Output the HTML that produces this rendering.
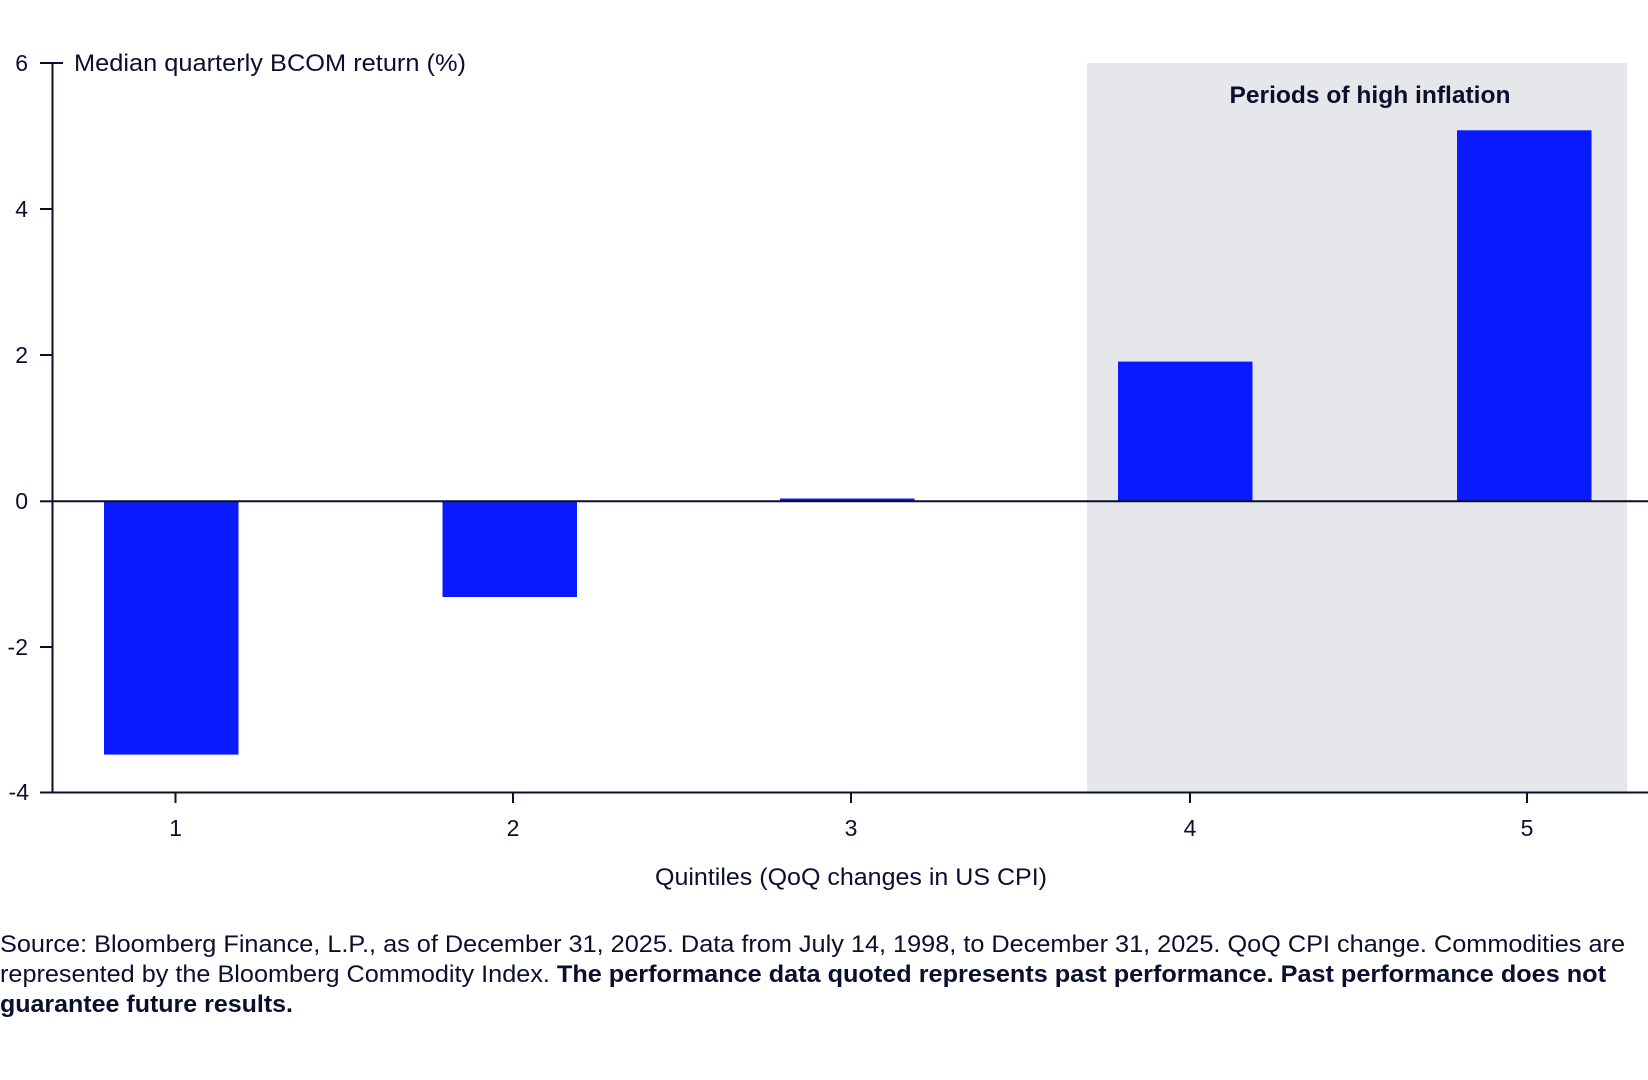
<!DOCTYPE html>
<html><head><meta charset="utf-8"><style>
html,body{margin:0;padding:0;background:#fff;}
svg{display:block;font-family:"Liberation Sans",sans-serif;}
</style></head><body>
<svg width="1648" height="1080" viewBox="0 0 1648 1080" xmlns="http://www.w3.org/2000/svg">
<rect x="1087" y="63" width="540" height="729.5" fill="#e6e7ea"/>
<g fill="#0a1aff">
<rect x="104" y="501.3" width="134.5" height="253.3"/>
<rect x="442.5" y="501.3" width="134.5" height="95.7"/>
<rect x="780" y="498.5" width="134.5" height="2.8"/>
<rect x="1118" y="361.6" width="134.5" height="139.7"/>
<rect x="1457" y="130.3" width="134.5" height="371"/>
</g>
<g stroke="#0b0f2e" stroke-width="2" fill="none">
<line x1="52.5" y1="63" x2="52.5" y2="792.5"/>
<line x1="52.5" y1="792.5" x2="1648" y2="792.5"/>
<line x1="52.5" y1="501.3" x2="1648" y2="501.3"/>
<line x1="40" y1="63" x2="63" y2="63"/>
<line x1="40" y1="209" x2="52.5" y2="209"/>
<line x1="40" y1="355" x2="52.5" y2="355"/>
<line x1="40" y1="501.3" x2="52.5" y2="501.3"/>
<line x1="40" y1="647" x2="52.5" y2="647"/>
<line x1="40" y1="792.5" x2="52.5" y2="792.5"/>
<line x1="175.5" y1="792.5" x2="175.5" y2="803"/>
<line x1="513" y1="792.5" x2="513" y2="803"/>
<line x1="851" y1="792.5" x2="851" y2="803"/>
<line x1="1190" y1="792.5" x2="1190" y2="803"/>
<line x1="1527" y1="792.5" x2="1527" y2="803"/>
</g>
<g fill="#0b0f2e" font-size="23">
<g text-anchor="end">
<text x="28" y="71">6</text>
<text x="28" y="217">4</text>
<text x="28" y="363">2</text>
<text x="28" y="509">0</text>
<text x="28" y="655">-2</text>
<text x="29" y="800">-4</text>
</g>
<g text-anchor="middle">
<text x="175.5" y="836">1</text>
<text x="513" y="836">2</text>
<text x="851" y="836">3</text>
<text x="1190" y="836">4</text>
<text x="1527" y="836">5</text>
<text x="851" y="885" font-size="24" textLength="392" lengthAdjust="spacingAndGlyphs">Quintiles (QoQ changes in US CPI)</text>
<text x="1370" y="103" font-size="24" font-weight="bold" textLength="281" lengthAdjust="spacingAndGlyphs">Periods of high inflation</text>
</g>
<text x="74" y="71" font-size="24" textLength="392" lengthAdjust="spacingAndGlyphs">Median quarterly BCOM return (%)</text>
<g font-size="24">
<text x="0" y="952" textLength="1625" lengthAdjust="spacingAndGlyphs">Source: Bloomberg Finance, L.P., as of December 31, 2025. Data from July 14, 1998, to December 31, 2025. QoQ CPI change. Commodities are</text>
<text x="0" y="982" textLength="1606" lengthAdjust="spacingAndGlyphs">represented by the Bloomberg Commodity Index. <tspan font-weight="bold">The performance data quoted represents past performance. Past performance does not</tspan></text>
<text x="0" y="1012" font-weight="bold" textLength="293" lengthAdjust="spacingAndGlyphs">guarantee future results.</text>
</g>
</g>
</svg>
</body></html>
